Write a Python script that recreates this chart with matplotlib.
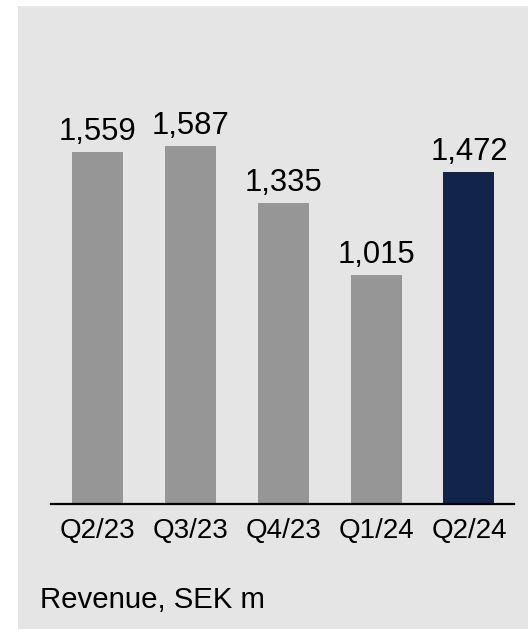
import matplotlib
matplotlib.use("Agg")
import matplotlib.pyplot as plt
from matplotlib.patches import Rectangle

quarters = ["Q2/23", "Q3/23", "Q4/23", "Q1/24", "Q2/24"]
revenue = [1559, 1587, 1335, 1015, 1472]
bar_colors = ["#969696", "#969696", "#969696", "#969696", "#12244A"]
caption = "Revenue, SEK m"

plt.rcParams["font.family"] = ["Liberation Sans", "DejaVu Sans"]

W, H = 528, 629
fig = plt.figure(figsize=(W / 100, H / 100), dpi=100)
fig.patch.set_facecolor("white")

# light grey panel behind the chart
panel = Rectangle((18 / W, 0), 1 - 18 / W, 1 - 6 / H,
                  transform=fig.transFigure, facecolor="#E5E5E5",
                  edgecolor="none", zorder=-10)
fig.add_artist(panel)

ax = fig.add_axes([51 / W, (H - 504) / H, (514 - 51) / W, (504 - 30) / H])
ax.set_facecolor("none")
ax.set_zorder(1)

x = list(range(len(quarters)))
bars = ax.bar(x, revenue, width=0.55, color=bar_colors, zorder=2)

for rect, val in zip(bars, revenue):
    ax.text(rect.get_x() + rect.get_width() / 2, val + 53, f"{val:,}",
            ha="center", va="baseline", fontsize=22.3, color="black")

ax.set_xlim(-0.5, 4.485)
ax.set_ylim(0, 2100)

for side in ["top", "right", "left"]:
    ax.spines[side].set_visible(False)
ax.spines["bottom"].set_linewidth(1.6)
ax.spines["bottom"].set_color("black")
ax.spines["bottom"].set_zorder(3)

ax.set_yticks([])
ax.set_xticks(x)
ax.set_xticklabels(quarters, fontsize=20)
ax.tick_params(axis="x", length=0, pad=10)

fig.text(40 / W, 1 - 608 / H, caption, fontsize=21.2, ha="left",
         va="baseline", color="black")

fig.savefig("out.png", dpi=100, facecolor=fig.get_facecolor())
